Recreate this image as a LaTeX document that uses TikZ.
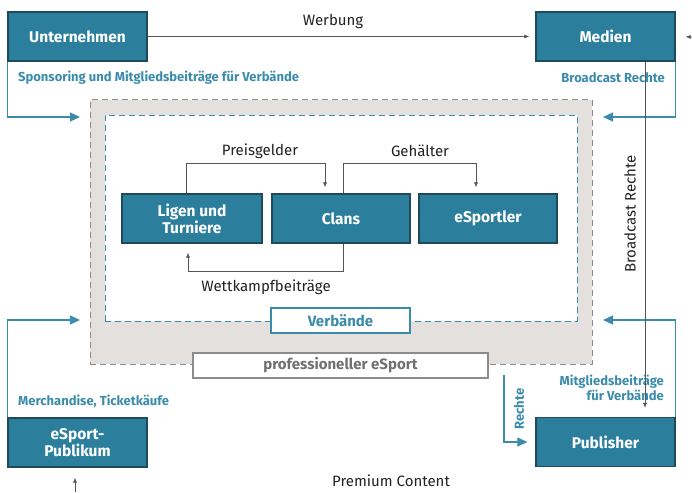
\documentclass[tikz,border=0pt]{standalone}
\usepackage{fontspec}
\setmainfont{Fira Sans}
\usetikzlibrary{arrows.meta}
\definecolor{boxteal}{HTML}{2C7F9C}
\definecolor{boxedge}{HTML}{1E4A5B}
\definecolor{lteal}{HTML}{3B8CAB}
\definecolor{regfill}{HTML}{E4E0DE}
\definecolor{reggray}{HTML}{8C8C8C}
\definecolor{txt}{HTML}{222222}
\definecolor{lin}{HTML}{555555}
\begin{document}
\begin{tikzpicture}[x=1pt,y=-1pt,
  mainbox/.style={draw=boxedge, line width=1.2pt, fill=boxteal, text=white,
    font=\bfseries\fontsize{15.5}{17}\selectfont, minimum width=139pt,
    minimum height=49pt, align=center, inner sep=0pt},
  tlabel/.style={text=lteal, font=\bfseries\fontsize{13}{14.5}\selectfont, inner sep=0pt},
  blabel/.style={text=txt, font=\fontsize{15}{17}\selectfont, inner sep=0pt},
  thinarr/.style={draw=lin, line width=0.6pt, -{Latex[length=5pt,width=4pt]}},
  tealarr/.style={draw=lteal, line width=1.1pt, -{Triangle[length=10pt,width=9pt]}},
  dash6/.style={dash pattern=on 6pt off 4pt}]
\useasboundingbox (0,0) rectangle (692,492);
% regions
\node (prof) [draw=reggray, dash6, line width=1pt, fill=regfill, minimum width=502pt, minimum height=264pt, inner sep=0pt] at (341,232) {};
\node (inner) [draw=lteal, dash6, line width=1pt, fill=white, minimum width=472pt, minimum height=206pt, inner sep=0pt] at (341,218) {};
\node (verb) [draw=lteal, line width=1.2pt, fill=white, text=lteal, font=\bfseries\fontsize{15}{17}\selectfont, minimum width=139pt, minimum height=25pt, inner sep=0pt] at (340.5,320.5) {Verbände};
\node (pe) [draw=reggray, line width=1.2pt, fill=white, text=reggray!80!black, font=\bfseries\fontsize{15}{17}\selectfont, minimum width=295pt, minimum height=25pt, inner sep=0pt] at (340.5,365.5) {professioneller eSport};
% boxes
\node (unt) [mainbox] at (77.5,36.5) {Unternehmen};
\node (med) [mainbox] at (605.5,36.5) {Medien};
\node (pub) [mainbox] at (605.5,442) {Publisher};
\node (pbl) [mainbox] at (77.5,442.5) {eSport-\\Publikum};
\node (lig) [mainbox, minimum width=140pt] at (192,218.5) {Ligen und\\Turniere};
\node (cla) [mainbox, minimum width=138pt] at (341,218.5) {Clans};
\node (esp) [mainbox, minimum width=138pt] at (488,218.5) {eSportler};
% inner connectors
\draw[thinarr, shorten >=6pt] ([xshift=-6pt]lig.north) -- ++(0,-30) -| ([xshift=-16pt]cla.north);
\draw[thinarr, shorten >=6pt] ([xshift=2pt]cla.north) -- ++(0,-30) -| ([xshift=-12pt]esp.north);
\draw[thinarr, shorten >=9pt] ([xshift=2pt]cla.south) -- ++(0,28) -| ([xshift=-4pt]lig.south);
\node (lpg) [blabel] at (260,151) {Preisgelder};
\node (lgh) [blabel] at (420,151) {Gehälter};
\node (lwk) [blabel] at (266,287) {Wettkampfbeiträge};
% top
\draw[thinarr, shorten >=6pt] (unt.east) -- (med.west);
\node (lwb) [blabel] at (333,21) {Werbung};
\coordinate (rin) at (692,37);
\draw[thinarr, shorten >=10pt] (rin) -- (med.east);
% teal flows
\coordinate (sp) at (80,117);
\draw[tealarr] (unt.south west) |- (sp);
\node (lsp) [tlabel, anchor=west] at (18,77.5) {Sponsoring und Mitgliedsbeiträge für Verbände};
\coordinate (bc) at (603,117);
\draw[tealarr] (med.south east) |- (bc);
\node (lbc) [tlabel, anchor=east] at (665,77.5) {Broadcast Rechte};
\coordinate (mc) at (80,320);
\draw[tealarr] (pbl.north west) |- (mc);
\node (lmc) [tlabel, anchor=west] at (18,401) {Merchandise, Ticketkäufe};
\coordinate (mg) at (603,320);
\draw[tealarr] (pub.north east) |- (mg);
\node (lmg) [tlabel, anchor=east, align=right] at (664,388) {Mitgliedsbeiträge\\für Verbände};
\coordinate (rt) at (504,375);
\draw[tealarr, shorten >=8pt] (rt) |- (pub.west);
\node (lrt) [tlabel, rotate=90] at (519,409) {Rechte};
% broadcast vertical
\draw[thinarr, shorten >=9pt] ([xshift=39.5pt]med.south) -- ([xshift=39.5pt]pub.north);
\node (lbr) [blabel, rotate=90] at (630,214) {Broadcast Rechte};
% bottom
\coordinate (pin) at (75,492);
\draw[thinarr, shorten >=10pt] (pin) -- ([xshift=-2.5pt]pbl.south);
\node (lpc) [blabel] at (391,481) {Premium Content};
\end{tikzpicture}
\end{document}
